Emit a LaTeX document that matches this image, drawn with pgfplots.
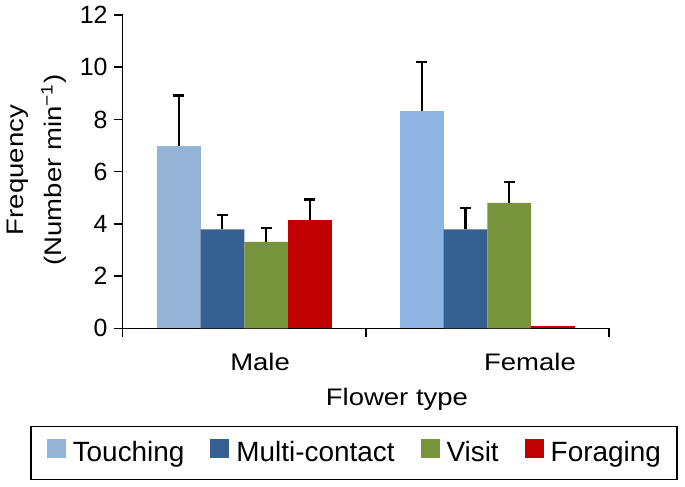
\documentclass[border=0pt]{standalone}
\usepackage{fontspec}
\setmainfont{Liberation Sans}[FakeStretch=1.15]
\newfontfamily\plainfont{Liberation Sans}
\usepackage{pgfplots}
\pgfplotsset{compat=1.18}
\definecolor{touchM}{HTML}{95B3D7}
\definecolor{touchF}{HTML}{8EB4E3}
\definecolor{multi}{HTML}{376092}
\definecolor{visit}{HTML}{77933C}
\definecolor{forag}{HTML}{C00000}
\begin{document}
\begin{tikzpicture}
\begin{axis}[
  width=486.3bp, height=313.3bp, scale only axis,
  xmin=-0.5, xmax=1.5, ymin=0, ymax=12,
  clip=false,
  axis lines*=left,
  axis line style={line width=1.6bp, black},
  /pgf/number format/assume math mode=true,
  ytick={0,2,...,12},
  xtick={-0.5,0.5,1.5}, xticklabels={},
  extra x ticks={0.065,1.175},
  extra x tick labels={Male,Female},
  extra x tick style={major tick length=0pt},
  tick align=outside, major tick length=9bp,
  tick style={line width=1.6bp, black},
  xticklabel style={font=\fontsize{24}{29}\selectfont, anchor=base, yshift=-41.7bp},
  yticklabel style={font=\plainfont\fontsize{25}{30}\selectfont, anchor=east, inner sep=0pt, xshift=-6bp},
  ylabel={Frequency\\[9bp](Number min\textsuperscript{−1})},
  ylabel style={at={(axis description cs:-0.1152,0.505)}, anchor=south, inner sep=0pt, align=center, font=\fontsize{24}{29}\selectfont},
  xlabel={Flower type},
  xlabel style={at={(axis description cs:0.564,-0.2448)}, anchor=base, inner sep=0pt, font=\fontsize{24}{29}\selectfont},
  ybar, bar width=0.18,
  legend columns=4,
  legend cell align=left,
  legend image code/.code={\fill[#1] (0bp,-5bp) rectangle (19bp,14bp);},
  legend style={at={(axis description cs:-0.1906,-0.3118)}, anchor=north west,
    draw=black, line width=1.5bp, font=\plainfont\fontsize{28}{33}\selectfont,
    inner xsep=16bp, inner ysep=12bp,
    nodes={inner sep=0pt, text height=23bp, text depth=6bp},
    /tikz/every odd column/.append style={column sep=7bp},
    /tikz/every even column/.append style={column sep=26bp}},
  error bars/y dir=plus, error bars/y explicit,
  error bars/error bar style={line width=2.2bp, black},
  error bars/error mark options={rotate=90, line width=2.4bp, mark size=5.5bp, black},
]
\addplot[fill=touchM, draw=none, bar shift=-0.27] coordinates {(0,7.00) +- (0,1.91)};
\addlegendentry{Touching}
\addplot[fill=touchF, draw=none, bar shift=-0.27, forget plot] coordinates {(1,8.31) +- (0,1.88)};
\addplot[fill=multi, draw=none, bar shift=-0.09] coordinates {(0,3.79) +- (0,0.56) (1,3.79) +- (0,0.82)};
\addlegendentry{Multi-contact}
\addplot[fill=visit, draw=none, bar shift=0.09] coordinates {(0,3.31) +- (0,0.53) (1,4.80) +- (0,0.81)};
\addlegendentry{Visit}
\addplot[fill=forag, draw=none, bar shift=0.27] coordinates {(0,4.14) +- (0,0.80)};
\addlegendentry{Foraging}
\addplot[fill=forag, draw=none, bar shift=0.27, forget plot, error bars/y dir=none] coordinates {(1,0.07)};
\path (axis description cs:-0.2523,-0.5065) rectangle (axis description cs:1.1563,1.0479);
\end{axis}
\end{tikzpicture}
\end{document}
